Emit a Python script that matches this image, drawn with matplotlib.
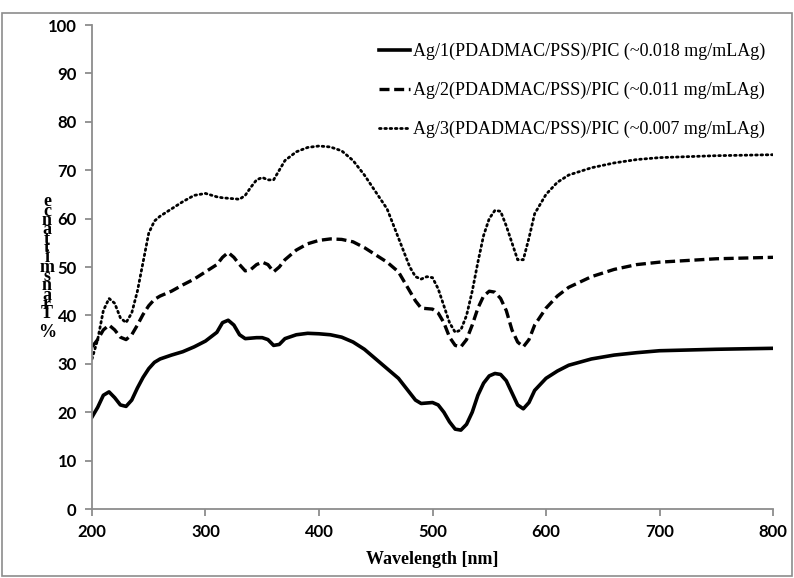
import matplotlib.pyplot as plt
from matplotlib.patches import Rectangle

# wavelength grid (nm) and % transmittance
wl = [200, 205, 210, 215, 220, 225, 230, 235, 240, 245, 250, 255, 260, 270, 280,
      290, 300, 310, 315, 320, 325, 330, 335, 340, 345, 350, 355, 360, 365, 370,
      380, 390, 400, 410, 420, 430, 440, 450, 460, 470, 480, 485, 490, 495, 500,
      505, 510, 515, 520, 525, 530, 535, 540, 545, 550, 555, 560, 565, 570, 575,
      580, 585, 590, 600, 610, 620, 640, 660, 680, 700, 750, 800]

ag1 = [19.0, 21.0, 23.5, 24.2, 23.0, 21.5, 21.2, 22.5, 25.0, 27.2, 29.0, 30.3, 31.0, 31.8, 32.5,
       33.5, 34.7, 36.5, 38.5, 39.0, 38.0, 36.0, 35.2, 35.3, 35.4, 35.4, 35.0, 33.8, 34.0, 35.2,
       36.0, 36.3, 36.2, 36.0, 35.5, 34.5, 33.0, 31.0, 29.0, 27.0, 24.0, 22.5, 21.8, 21.9, 22.0,
       21.5, 20.0, 18.0, 16.5, 16.3, 17.5, 20.0, 23.5, 26.0, 27.5, 28.0, 27.8, 26.5, 24.0, 21.5,
       20.7, 22.0, 24.5, 27.0, 28.5, 29.7, 31.0, 31.8, 32.3, 32.7, 33.0, 33.2]

ag2 = [33.5, 35.0, 37.0, 38.0, 37.0, 35.5, 35.0, 36.0, 38.0, 40.2, 42.0, 43.3, 44.0, 45.0, 46.3,
       47.5, 49.0, 50.5, 52.0, 53.0, 52.0, 50.5, 49.2, 49.5, 50.5, 51.0, 50.5, 49.0, 50.0, 51.5,
       53.5, 54.8, 55.5, 55.8, 55.7, 55.2, 54.0, 52.5, 51.0, 49.0, 45.0, 43.0, 41.5, 41.4, 41.3,
       40.5, 38.5, 35.5, 33.8, 33.5, 35.0, 38.0, 41.5, 44.0, 45.0, 44.8, 43.5, 41.0, 37.0, 34.5,
       33.5, 35.0, 38.0, 41.5, 44.0, 45.8, 48.0, 49.5, 50.5, 51.0, 51.7, 52.0]

ag3 = [31.0, 35.0, 41.0, 43.5, 42.5, 39.5, 38.5, 40.5, 45.0, 51.0, 57.0, 59.5, 60.5, 62.0, 63.5,
       64.8, 65.2, 64.5, 64.3, 64.2, 64.1, 64.0, 64.8, 66.5, 68.0, 68.5, 68.0, 68.0, 70.0, 72.0,
       73.8, 74.7, 75.0, 74.8, 74.0, 72.0, 69.0, 65.5, 62.0, 56.0, 50.0, 48.0, 47.5, 48.0, 47.8,
       45.5, 42.0, 38.5, 36.5, 37.0, 40.0, 45.0, 51.0, 56.5, 60.0, 61.7, 61.5, 58.5, 55.0, 51.5,
       51.5, 56.0, 61.0, 65.0, 67.5, 69.0, 70.5, 71.5, 72.2, 72.6, 73.0, 73.2]

labels = ['Ag/1(PDADMAC/PSS)/PIC (~0.018 mg/mLAg)',
          'Ag/2(PDADMAC/PSS)/PIC (~0.011 mg/mLAg)',
          'Ag/3(PDADMAC/PSS)/PIC (~0.007 mg/mLAg)']

# garbled stacked y label as it appears in the original
ylab_chars = ['e', 'c', 'n', 'a', 't', 't', 'i', 'm', 's', 'n', 'a', 'r', 'T', '%']

xticks = [200, 300, 400, 500, 600, 700, 800]
yticks = [0, 10, 20, 30, 40, 50, 60, 70, 80, 90, 100]

serif = ['Liberation Serif', 'DejaVu Serif']
sans = ['Lato', 'DejaVu Sans']

fig = plt.figure(figsize=(7.94, 5.78), dpi=100)
ax = fig.add_axes([92 / 794, 69 / 578, 681 / 794, 484 / 578])

ax.plot(wl, ag1, color='black', lw=2.6, ls='-', label=labels[0])
ax.plot(wl, ag2, color='black', lw=2.4, ls=(0, (3.0, 1.4)), label=labels[1])
ax.plot(wl, ag3, color='black', lw=2.0, ls=(0, (0.6, 1.3)), dash_capstyle='round', label=labels[2])

ax.set_xlim(200, 800)
ax.set_ylim(0, 100)
ax.set_xticks(xticks)
ax.set_yticks(yticks)

for s in ['top', 'right']:
    ax.spines[s].set_visible(False)
for s in ['left', 'bottom']:
    ax.spines[s].set_color('#8c8c8c')
    ax.spines[s].set_linewidth(1.3)
ax.tick_params(direction='out', color='#8c8c8c', length=5, width=1.3, pad=6)
for t in ax.get_xticklabels() + ax.get_yticklabels():
    t.set_fontfamily(sans)
    t.set_fontweight('bold')
    t.set_fontsize(12)

ax.set_xlabel('Wavelength [nm]', fontfamily=serif, fontweight='bold', fontsize=13, labelpad=8)

leg = ax.legend(loc='upper left', bbox_to_anchor=(280 / 681, 0.978), frameon=False,
                prop={'family': serif, 'size': 13}, handlelength=1.7,
                handletextpad=0.15, labelspacing=1.2, borderaxespad=0.0)

# stacked y label
y_top, y_step = 202, 9.3
for i, ch in enumerate(ylab_chars):
    yp = y_top + i * y_step
    if ch == '%':
        yp += 10
    fig.text(47 / 794, 1 - yp / 578, ch, ha='center', va='center',
             fontfamily=serif, fontweight='bold', fontsize=13)

# outer chart-area border
fig.patches.append(Rectangle((0.003, 0.003), 0.994, 0.975, transform=fig.transFigure,
                             fill=False, edgecolor='#8c8c8c', lw=1.2))

fig.savefig('out.png', dpi=100)
